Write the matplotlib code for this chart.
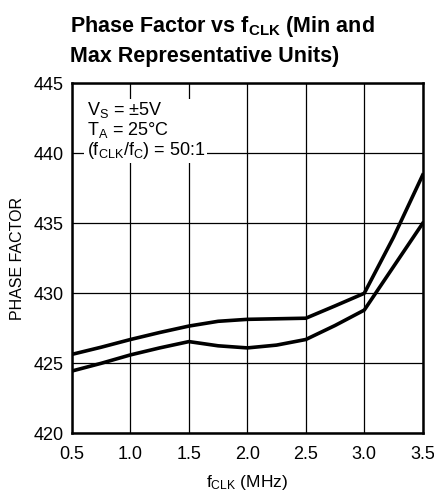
import matplotlib
matplotlib.use("Agg")
import matplotlib.pyplot as plt
from matplotlib import font_manager

names = {f.name for f in font_manager.fontManager.ttflist}
fam = "Liberation Sans Narrow" if "Liberation Sans Narrow" in names else "Liberation Sans"
plt.rcParams['font.family'] = [fam, 'DejaVu Sans']
plt.rcParams['mathtext.fontset'] = 'custom'
plt.rcParams['mathtext.rm'] = fam
plt.rcParams['mathtext.it'] = fam
plt.rcParams['mathtext.bf'] = fam + ':bold'

# Data
f_clk = [0.5, 0.75, 1.0, 1.25, 1.5, 1.75, 2.0, 2.25, 2.5, 2.75, 3.0, 3.25, 3.5]
max_unit = [425.64, 426.15, 426.7, 427.2, 427.66, 428.0, 428.14, 428.18, 428.22, 429.1, 430.0, 434.0, 438.45]
min_unit = [424.45, 425.0, 425.6, 426.1, 426.55, 426.25, 426.1, 426.3, 426.7, 427.7, 428.8, 431.9, 435.0]
xticks = [0.5, 1.0, 1.5, 2.0, 2.5, 3.0, 3.5]
yticks = [420, 425, 430, 435, 440, 445]

fig = plt.figure(figsize=(4.35, 4.93), dpi=100)
ax = fig.add_axes([72/435, 1 - 433.3/493, (422.7-72)/435, (433.3-83.3)/493])

ax.plot(f_clk, max_unit, color='black', lw=2.6, solid_joinstyle='round', zorder=3)
ax.plot(f_clk, min_unit, color='black', lw=2.6, solid_joinstyle='round', zorder=3)

ax.set_xlim(0.5, 3.5)
ax.set_ylim(420, 445)
ax.set_xticks(xticks)
ax.set_xticklabels([f"{v:.1f}" for v in xticks])
ax.set_yticks(yticks)
ax.set_yticklabels([str(v) for v in yticks])
ax.grid(True, color='black', lw=0.9, zorder=1)
ax.tick_params(length=0, labelsize=13)
ax.tick_params(axis='x', pad=9)
ax.tick_params(axis='y', pad=6)
for s in ax.spines.values():
    s.set_linewidth(1.8)

ax.set_ylabel("PHASE FACTOR", fontsize=11.5, labelpad=6)
ax.set_xlabel(r"f$_\mathregular{CLK}$ (MHz)", fontsize=12.5, labelpad=7)

txt = "V$_\\mathregular{S}$ = ±5V\nT$_\\mathregular{A}$ = 25°C\n(f$_\\mathregular{CLK}$/f$_\\mathregular{C}$) = 50:1"
ax.text(0.625, 443.8, txt, fontsize=13, va='top', ha='left', linespacing=1.0,
        bbox=dict(facecolor='white', edgecolor='none', pad=1.5), zorder=4)

fig.text(70/435, 1 - 32/493, "Phase Factor vs f$_\\mathbf{CLK}$ (Min and",
         fontsize=15.5, fontweight='bold', va='baseline', ha='left')
fig.text(70/435, 1 - 62/493, "Max Representative Units)",
         fontsize=15.5, fontweight='bold', va='baseline', ha='left')

fig.savefig("out.png", dpi=100)
